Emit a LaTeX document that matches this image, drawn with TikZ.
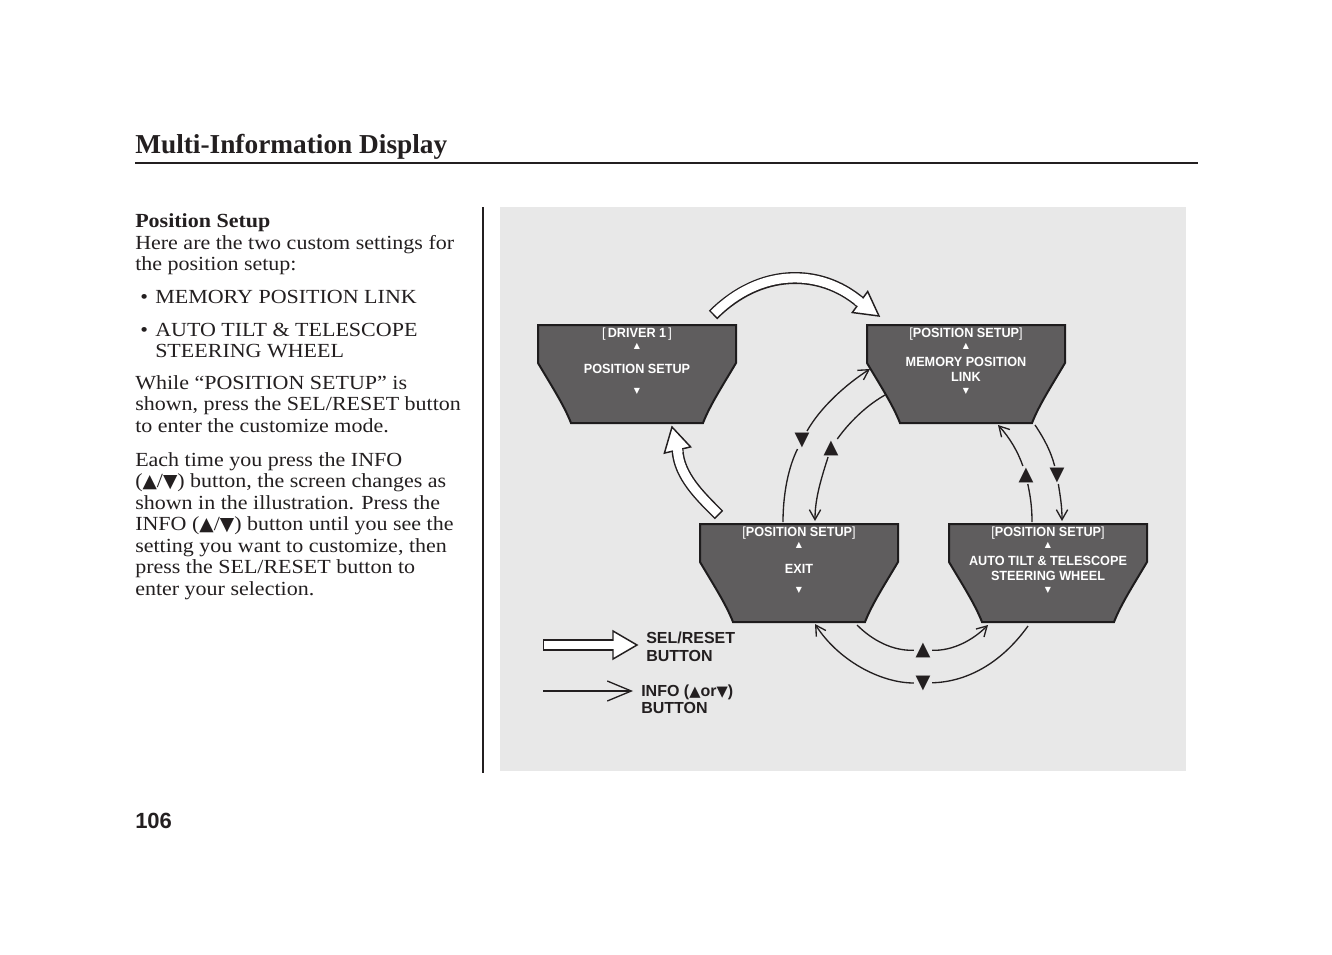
\documentclass[tikz,border=0pt]{standalone}
\usepackage{fontspec}
\usetikzlibrary{arrows.meta}
\newfontfamily\bodyf{Liberation Serif}[FakeStretch=1.1]
\newfontfamily\titlef{Liberation Serif}
\newfontfamily\sansf{Liberation Sans}
\newfontfamily\dispf{Liberation Sans}[FakeStretch=0.95]
\newfontfamily\symf{DejaVu Sans}
\definecolor{ink}{HTML}{231F20}
\definecolor{panel}{HTML}{E8E8E8}
\definecolor{dispfill}{HTML}{5F5D5E}
\definecolor{displine}{HTML}{1E1C1D}
\newcommand\btri[1]{{\symf\fontsize{14}{14}\selectfont #1}}
\newcommand\ltri[1]{{\symf\fontsize{11}{11}\selectfont #1}}
\newcommand\lbr[1]{{\mdseries #1}}
\newcommand\dispshape[2]{%
  \begin{scope}[shift={(#1,#2)}]
    \draw[disp] (0,0) -- (198,0) -- (198,38) .. controls (185,60) and (172,80) .. (165,98)
      -- (33,98) .. controls (26,80) and (13,60) .. (0,38) -- cycle;
  \end{scope}}
\tikzset{
  disp/.style={fill=dispfill, draw=displine, line width=1.5pt, line join=miter},
  dtxt/.style={text=white, font=\dispf\bfseries\fontsize{10}{10}\selectfont, inner sep=0, anchor=base},
  dtri/.style={text=white, font=\symf\fontsize{6}{6}\selectfont, inner sep=0},
  tmark/.style={text=ink, font=\symf\fontsize{14.5}{14.5}\selectfont, inner sep=1pt},
  body/.style={anchor=base west, inner sep=0, text=ink, font=\bodyf\fontsize{15}{18}\selectfont},
  legend/.style={anchor=base west, inner sep=0, text=ink, font=\sansf\bfseries\fontsize{12}{12}\selectfont},
  info/.style={draw=ink, line width=1pt},
  infoarr/.style={info, -{Straight Barb[length=7.5pt,width=8.5pt,line width=1pt]}},
  shaftout/.style={draw=ink, line width=9pt},
  shaftin/.style={draw=white, line width=6.8pt},
  hhead/.style={fill=white, draw=ink, line width=1.1pt, line join=miter},
}
\begin{document}
\begin{tikzpicture}[x=0.75pt,y=-0.75pt]
\useasboundingbox (0,0) rectangle (1332,954);
\fill[white] (0,0) rectangle (1332,954);

% header
\node[anchor=base west, inner sep=0, text=ink, font=\titlef\bfseries\fontsize{20.5}{24}\selectfont] (title) at (135,153) {Multi-Information Display};
\draw[ink, line width=0.8pt] (135,163) -- (1198,163);
\draw[ink, line width=1.4pt] (483,207) -- (483,773);
\node[anchor=base west, inner sep=0, text=ink, font=\sansf\bfseries\fontsize{16.5}{18}\selectfont] (pageno) at (135,828) {106};

% left text
\node[body, font=\bodyf\bfseries\fontsize{15}{18}\selectfont] (t1) at (135,227) {Position Setup};
\node[body] (t2) at (135,249) {Here are the two custom settings for};
\node[body] (t3) at (135,270.5) {the position setup:};
\node[body] (b1) at (140,303) {•};
\node[body] (t4) at (155,303) {MEMORY POSITION LINK};
\node[body] (b2) at (140,336) {•};
\node[body] (t5) at (155,336) {AUTO TILT \& TELESCOPE};
\node[body] (t6) at (155,357.5) {STEERING WHEEL};
\node[body] (t7) at (135,389) {While “POSITION SETUP” is};
\node[body] (t8) at (135,410.5) {shown, press the SEL/RESET button};
\node[body] (t9) at (135,432) {to enter the customize mode.};
\node[body] (t10) at (135,466) {Each time you press the INFO};
\node[body] (t11) at (135,487.5) {(\btri{▲}/\btri{▼}) button, the screen changes as};
\node[body] (t12) at (135,509) {shown in the illustration. Press the};
\node[body] (t13) at (135,530.5) {INFO (\btri{▲}/\btri{▼}) button until you see the};
\node[body] (t14) at (135,552) {setting you want to customize, then};
\node[body] (t15) at (135,573.5) {press the SEL/RESET button to};
\node[body] (t16) at (135,595) {enter your selection.};

% panel
\fill[panel] (500,207) rectangle (1186,771);

% display boxes
\dispshape{538}{325}
\dispshape{867}{325}
\dispshape{700}{524}
\dispshape{949}{524}

% driver box texts
\node[dtxt] (d1) at (637,337) {\lbr{[}\,DRIVER 1\,\lbr{]}};
\node[dtri] (d2) at (637,346) {▲};
\node[dtxt] (d3) at (637,373) {POSITION SETUP};
\node[dtri] (d4) at (637,391) {▼};
% memory box texts
\node[dtxt] (m1) at (966,337) {\lbr{[}POSITION SETUP\lbr{]}};
\node[dtri] (m2) at (966,346) {▲};
\node[dtxt] (m3) at (966,366) {MEMORY POSITION};
\node[dtxt] (m4) at (966,381) {LINK};
\node[dtri] (m5) at (966,391) {▼};
% exit box texts
\node[dtxt] (e1) at (799,536) {\lbr{[}POSITION SETUP\lbr{]}};
\node[dtri] (e2) at (799,545) {▲};
\node[dtxt] (e3) at (799,573) {EXIT};
\node[dtri] (e4) at (799,590) {▼};
% auto box texts
\node[dtxt] (a1) at (1048,536) {\lbr{[}POSITION SETUP\lbr{]}};
\node[dtri] (a2) at (1048,545) {▲};
\node[dtxt] (a3) at (1048,565) {AUTO TILT \& TELESCOPE};
\node[dtxt] (a4) at (1048,580) {STEERING WHEEL};
\node[dtri] (a5) at (1048,590) {▼};

% SEL/RESET hollow arrows
\coordinate (s1a) at (713,315);
\coordinate (s1b) at (860.5,302.5);
\draw[shaftout] (s1a) .. controls (760,268) and (820,268) .. (s1b);
\draw[shaftin, shorten <=1.1pt] (s1a) .. controls (760,268) and (820,268) .. (s1b);
\filldraw[hhead] (879,316) -- (867.7,291.5) -- (852.3,312.5) -- cycle;
\draw[shaftin] (857.5,300.3) -- (863.5,304.7);

\coordinate (s2a) at (719,515);
\coordinate (s2b) at (677.5,450);
\draw[shaftout] (s2a) .. controls (700,496) and (679,476) .. (s2b);
\draw[shaftin, shorten <=1.1pt] (s2a) .. controls (700,496) and (679,476) .. (s2b);
\filldraw[hhead] (672,427) -- (664.4,453.1) -- (690.6,446.9) -- cycle;
\draw[shaftin] (678.2,453) -- (676.8,447);

% INFO markers
\node[tmark] (mA) at (802,440) {▼};
\node[tmark] (mB) at (831,448) {▲};
\node[tmark] (mC) at (1026,475) {▲};
\node[tmark] (mD) at (1057,475) {▼};
\node[tmark] (mE) at (923,650) {▲};
\node[tmark] (mF) at (923,683) {▼};

% endpoints on boxes
\coordinate (cEx1) at (783,522);
\coordinate (cMe1) at (870,369);
\coordinate (cMe2) at (885,395);
\coordinate (cEx2) at (815,521);
\coordinate (cAu1) at (1032,522);
\coordinate (cMe3) at (998,425);
\coordinate (cMe4) at (1035,425);
\coordinate (cAu2) at (1062,521);
\coordinate (cEx3) at (857,625);
\coordinate (cAu3) at (988,625);
\coordinate (cAu4) at (1028,626);
\coordinate (cEx4) at (815,624);

% INFO arcs
\draw[info] (cEx1) .. controls (783,495) and (788,468) .. (mA);
\draw[infoarr] (mA) .. controls (820,408) and (845,385) .. (cMe1);
\draw[info] (cMe2) .. controls (862,408) and (845,428) .. (mB);
\draw[infoarr] (mB) .. controls (820,482) and (815,500) .. (cEx2);

\draw[info] (cAu1) .. controls (1032,505) and (1030,495) .. (mC);
\draw[infoarr] (mC) .. controls (1018,452) and (1010,438) .. (cMe3);
\draw[info] (cMe4) .. controls (1045,440) and (1051,452) .. (mD);
\draw[infoarr] (mD) .. controls (1060,495) and (1062,505) .. (cAu2);

\draw[info] (cEx3) .. controls (872,640) and (892,651) .. (mE);
\draw[infoarr] (mE) .. controls (953,651) and (973,640) .. (cAu3);
\draw[info] (cAu4) .. controls (1000,665) and (965,682) .. (mF);
\draw[infoarr] (mF) .. controls (880,683) and (838,660) .. (cEx4);

% legend
\coordinate (l1a) at (543,645);
\coordinate (l1b) at (613,645);
\draw[draw=ink, line width=8.4pt] (l1a) -- (l1b);
\draw[draw=white, line width=6.2pt, shorten <=1.1pt] (l1a) -- (l1b);
\filldraw[hhead] (637,645) -- (613,631) -- (613,659) -- cycle;
\draw[draw=white, line width=6.2pt] (610,645) -- (616,645);
\node[legend] (lg1) at (646,643) {SEL/RESET};
\node[legend] (lg2) at (646,661) {BUTTON};

\coordinate (l2a) at (543,691);
\coordinate (l2b) at (633,691);
\draw[info, -{Straight Barb[length=18pt,width=15pt,line width=1pt]}] (l2a) -- (l2b);
\node[legend] (lg3) at (641,696) {INFO (\ltri{▲}or\ltri{▼})};
\node[legend] (lg4) at (641,713) {BUTTON};
\end{tikzpicture}
\end{document}
